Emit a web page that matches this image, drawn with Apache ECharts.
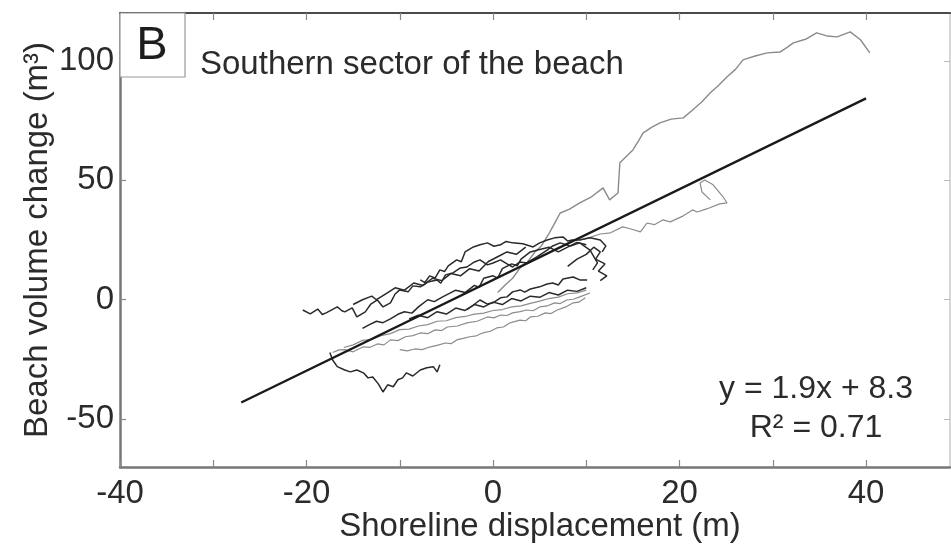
<!DOCTYPE html>
<html>
<head>
<meta charset="utf-8">
<script src="https://cdn.jsdelivr.net/npm/echarts@6/dist/echarts.min.js"></script>
<style>
  html, body { margin: 0; padding: 0; background: #fff; }
  #chart { width: 951px; height: 549px; }
</style>
</head>
<body>
<div id="chart"></div>
<script>
// Axis ranges and tick positions
const xRange = [-40, 49];
const yRange = [-70, 120];
const xTickValues = [-40, -30, -20, -10, 0, 10, 20, 30, 40];
const xLabelValues = [-40, -20, 0, 20, 40];
const yTickValues = [-50, 0, 50, 100];

// Linear fit of volume change against shoreline displacement
const fitSlope = 1.9;
const fitIntercept = 8.3;
const fitR2 = 0.71;
const fitXSpan = [-27, 40];

// Shoreline displacement (m) vs beach volume change (m3), one trajectory per period
const traceA = [[-20.4,-4.3],[-19.6,-5.9],[-18.8,-3.9],[-18.3,-6.2],[-17.9,-5.5],[-16.7,-3.0],[-16.2,-4.6],[-15.9,-5.1],[-15.1,-3.4],[-14.6,-7.2],[-13.7,-5.1],[-13.1,-1.8],[-12.4,-0.1],[-11.8,-3.0],[-11.0,-1.3],[-10.5,2.4],[-10.0,4.1],[-9.1,3.3],[-8.6,5.8],[-7.8,5.4],[-7.0,7.4],[-6.0,8.3],[-5.6,6.9],[-5.1,10.4],[-4.3,11.2],[-3.5,13.3],[-2.8,13.7],[-2.0,15.8],[-1.4,16.7],[-0.6,14.6],[0,15.4],[0.8,16.7],[1.5,15.0],[2.1,13.7],[2.9,15.8],[3.6,15.4],[4.7,17.9],[5.8,20.8],[6.4,22.5],[7.2,23.8],[8.3,22.5],[9.3,23.8],[10.4,20.8],[11.2,15.4],[10.7,12.5]];
const traceB = [[-7.8,8.3],[-7.3,7.2],[-6.8,10.0],[-6.2,9.1],[-5.7,12.5],[-5.2,11.8],[-4.8,14.2],[-3.9,16.7],[-3.4,15.9],[-3.0,20.0],[-2.1,22.1],[-1.4,23.0],[-0.6,23.8],[0.1,22.4],[0.8,23.0],[1.4,24.4],[2.1,23.8],[3.2,23.4],[4.3,22.1],[5.0,23.8],[5.8,25.0],[6.6,25.9],[7.5,26.3],[8.0,24.6],[8.5,25.0],[9.3,25.0],[10.4,25.9],[11.5,25.0],[12.1,22.5],[11.7,20.0]];
const traceC = [[-2.8,-4.1],[-2.1,-2.2],[-1.4,-0.1],[-0.6,-1.8],[0,-1.3],[0.8,0.8],[1.5,1.2],[2.1,3.3],[2.9,4.1],[3.4,3.2],[4.0,4.5],[5.0,5.4],[5.8,6.6],[6.4,7.0],[7.0,6.2],[7.5,8.7],[8.6,9.5],[9.3,8.3],[10.1,8.3]];
const traceD = [[-17.2,-22.1],[-16.5,-21.0],[-15.9,-20.9],[-15.0,-21.8],[-13.9,-19.7],[-13.2,-19.9],[-12.4,-18.5],[-11.7,-18.9],[-11.0,-16.8],[-10.2,-17.1],[-9.4,-15.5],[-8.6,-15.0],[-7.8,-13.9],[-7.0,-14.2],[-6.2,-12.6],[-5.5,-12.9],[-4.9,-11.4],[-3.8,-11.0],[-2.8,-9.7],[-1.7,-9.0],[-0.6,-7.2],[0.1,-7.6],[0.8,-6.4],[1.5,-6.6],[2.1,-5.5],[2.9,-5.0],[3.6,-4.3],[4.3,-4.6],[5.0,-3.0],[5.8,-2.6],[6.6,-1.3],[7.2,-1.6],[7.9,-0.1],[8.6,0.2],[9.3,1.2],[10.4,2.8]];
const traceE = [[-10.0,-20.9],[-9.2,-21.4],[-8.4,-20.6],[-7.6,-20.9],[-6.8,-19.8],[-5.9,-19.0],[-5.1,-18.1],[-4.5,-18.4],[-3.9,-16.8],[-3.2,-16.2],[-2.5,-15.5],[-1.8,-15.1],[-1.1,-13.9],[-0.3,-13.2],[0.4,-11.8],[1.1,-11.4],[1.8,-9.7],[2.9,-8.5],[3.5,-8.8],[4.0,-7.2],[4.8,-6.9],[5.6,-5.5],[6.2,-5.8],[6.9,-4.3],[7.8,-3.0],[8.6,-1.3],[9.2,-1.0],[9.9,0.8]];
const traceF = [[-17.5,-22.1],[-17.2,-25.2],[-16.7,-28.0],[-15.9,-29.4],[-15.3,-30.2],[-14.6,-29.4],[-13.9,-30.6],[-13.4,-32.7],[-12.9,-32.3],[-12.3,-35.2],[-11.8,-38.6],[-11.3,-35.6],[-10.7,-36.4],[-10.2,-33.5],[-9.7,-32.7],[-9.3,-30.6],[-8.6,-31.9],[-7.8,-29.4],[-7.1,-28.5],[-6.4,-28.0],[-6.0,-30.2],[-5.7,-27.2]];
const traceG = [[-14,-12],[-13.3,-10.5],[-12.5,-9],[-11.8,-9.6],[-11,-8],[-10.2,-6.1],[-9.5,-5],[-8.7,-5.6],[-8,-3],[-7,0],[-6.3,-0.8],[-5.5,1],[-4,4],[-3,3],[-2,6],[-1.5,5.2],[-1,9],[0,10],[0.5,9.1],[1,13],[2,15],[2.6,14.2],[3,17],[4,20],[5,21],[6,22],[7,20],[8,22],[9,24],[10,23]];
const traceH = [[9.3,25.0],[10.4,26.1],[11.5,27.5],[12.6,28.0],[13.9,30.5],[14.8,29.6],[15.8,28.4],[16.5,32.1],[17.3,31.4],[18.2,33.4],[19.0,32.6],[20.4,35.1],[21.4,37.6],[21.9,36.7],[22.9,38.0],[24.3,40.1],[25.1,40.5],[24.6,43.4],[23.6,48.1],[22.7,50.1],[22.2,48.9],[22.4,45.1],[23.3,41.8]];
const traceI = [[-9,-8],[-8,-6.5],[-7,-7.5],[-6,-5],[-5,-6],[-4,-3.5],[-3,-4.5],[-2,-2],[-1,-3],[0,-1],[1,-2],[2,0.5],[3,-0.5],[4,1.5],[5,1],[6,3],[7,2],[8,4],[9,3.5],[10,5]];
const traceJ = [[-15,-2],[-14,0],[-13,1.5],[-12.5,0],[-11.5,2.5],[-10.5,5],[-9.5,4],[-8.5,7],[-7.5,6],[-6.5,9],[-5.5,8],[-4.5,11],[-3.5,10],[-2.5,13],[-1.5,12],[-0.5,16],[0.5,18],[1.5,20],[2.5,19],[3.5,22]];
const traceK = [[8,14],[9,17],[10,19],[10.8,22],[11.5,20],[11,17],[12,15],[11.3,12],[12.2,10],[11.5,8]];
const traceL = [[-16,-20],[-15,-18.9],[-14,-17],[-13,-16.6],[-12,-15],[-11,-14.2],[-10,-12.5],[-9,-12.3],[-8,-11],[-7,-10.4],[-6,-9],[-5,-8.8],[-4,-7.5],[-3,-7.0],[-2,-6],[-1,-5.6],[0,-4.5],[1,-4.1],[2,-3],[3,-2.6],[4,-1.5],[5,-0.6],[6,0.5],[7,1.1],[8,2.5],[9,2.9],[10,4]];
const traceRise = [[0.5,3.0],[1.3,6.2],[2.1,9.0],[2.9,13.3],[3.7,15.8],[4.5,20.0],[5.2,22.6],[5.9,27.0],[6.5,31.2],[7.2,36.3],[8.2,37.9],[9.3,40.5],[10.6,43.2],[11.8,46.8],[12.5,41.8],[13.4,44.7],[13.6,57.3],[15.0,62.7],[15.6,66.5],[16.1,69.8],[17.0,72.1],[17.9,74.0],[19.1,75.6],[20.4,76.1],[21.4,79.4],[22.4,82.9],[23.3,86.6],[24.2,89.8],[25.1,93.3],[26.0,96.4],[26.8,100.4],[28.1,102.0],[29.4,103.3],[30.8,103.7],[31.5,105.5],[32.2,107.5],[33.5,109.0],[34.7,111.7],[35.8,110.4],[36.9,110.0],[38.3,112.1],[39.4,108.8],[40.4,103.3]];

const darkTraces = [traceA, traceB, traceC, traceG, traceF, traceI, traceJ, traceK];
const lightTraces = [traceD, traceE, traceH, traceL];

const fitLine = fitXSpan.map(x => [x, fitSlope * x + fitIntercept]);

const FONT = '"Liberation Sans", Arial, sans-serif';
const TEXT = '#2b2b2b';

function traceSeries(data, color, width) {
  return { type: 'line', data, showSymbol: false, silent: true,
    lineStyle: { color, width }, z: 2, animation: false };
}

const series = [];
lightTraces.forEach(t => series.push(traceSeries(t, '#8c8c8c', 1.2)));
series.push(traceSeries(traceRise, '#8a8a8a', 1.4));
darkTraces.forEach(t => series.push(traceSeries(t, '#2a2a2a', 1.5)));
series.push({ type: 'line', data: fitLine, showSymbol: false, silent: true,
  lineStyle: { color: '#1a1a1a', width: 2.4 }, z: 3, animation: false });

const chart = echarts.init(document.getElementById('chart'));
chart.setOption({
  animation: false,
  backgroundColor: '#fff',
  grid: { left: 120, right: 1, top: 13, bottom: 82 },
  xAxis: [{
    type: 'value', min: xRange[0], max: xRange[1], position: 'bottom',
    splitLine: { show: false },
    axisLine: { onZero: false, lineStyle: { color: '#777', width: 2.5 } },
    axisTick: { inside: true, length: 7, customValues: xTickValues, lineStyle: { color: '#888', width: 1.2 } },
    axisLabel: { customValues: xLabelValues, color: TEXT, fontSize: 33, fontFamily: FONT, margin: 10 }
  }, {
    type: 'value', min: xRange[0], max: xRange[1], position: 'top',
    splitLine: { show: false },
    axisLine: { onZero: false, lineStyle: { color: '#4a4a4a', width: 2.2 } },
    axisTick: { inside: true, length: 7, customValues: xTickValues, lineStyle: { color: '#888', width: 1.2 } },
    axisLabel: { show: false }
  }],
  yAxis: [{
    type: 'value', min: yRange[0], max: yRange[1], position: 'left',
    splitLine: { show: false },
    axisLine: { onZero: false, lineStyle: { color: '#777', width: 2.5 } },
    axisTick: { inside: true, length: 6, customValues: yTickValues, lineStyle: { color: '#888', width: 1.2 } },
    axisLabel: { customValues: yTickValues, color: TEXT, fontSize: 33, fontFamily: FONT, margin: 6 }
  }, {
    type: 'value', min: yRange[0], max: yRange[1], position: 'right',
    splitLine: { show: false },
    axisLine: { onZero: false, lineStyle: { color: '#c8c8c8', width: 1.5 } },
    axisTick: { inside: true, length: 6, customValues: yTickValues, lineStyle: { color: '#bbb', width: 1 } },
    axisLabel: { show: false }
  }],
  series,
  graphic: [
    { type: 'rect', shape: { x: 120, y: 13, width: 65, height: 64 },
      style: { fill: '#fff', stroke: '#999', lineWidth: 1.2 }, z: 10 },
    { type: 'text', x: 152, y: 46, z: 11,
      style: { text: 'B', fontSize: 47, fontFamily: FONT, fill: '#1e1e1e', align: 'center', verticalAlign: 'middle' } },
    { type: 'text', x: 200, y: 65, z: 11,
      style: { text: 'Southern sector of the beach', fontSize: 33, fontFamily: FONT, fill: TEXT, align: 'left', verticalAlign: 'middle' } },
    { type: 'text', x: 816, y: 389, z: 11,
      style: { text: 'y = ' + fitSlope + 'x + ' + fitIntercept, fontSize: 32, fontFamily: FONT, fill: TEXT, align: 'center', verticalAlign: 'middle' } },
    { type: 'text', x: 816, y: 428, z: 11,
      style: { text: 'R² = ' + fitR2, fontSize: 32, fontFamily: FONT, fill: TEXT, align: 'center', verticalAlign: 'middle' } },
    { type: 'text', x: 540, y: 527, z: 11,
      style: { text: 'Shoreline displacement (m)', fontSize: 33, fontFamily: FONT, fill: TEXT, align: 'center', verticalAlign: 'middle' } },
    { type: 'text', x: 38, y: 240, rotation: Math.PI / 2, z: 11,
      style: { text: 'Beach volume change (m³)', fontSize: 33, fontFamily: FONT, fill: TEXT, align: 'center', verticalAlign: 'middle' } }
  ]
});
</script>
</body>
</html>
